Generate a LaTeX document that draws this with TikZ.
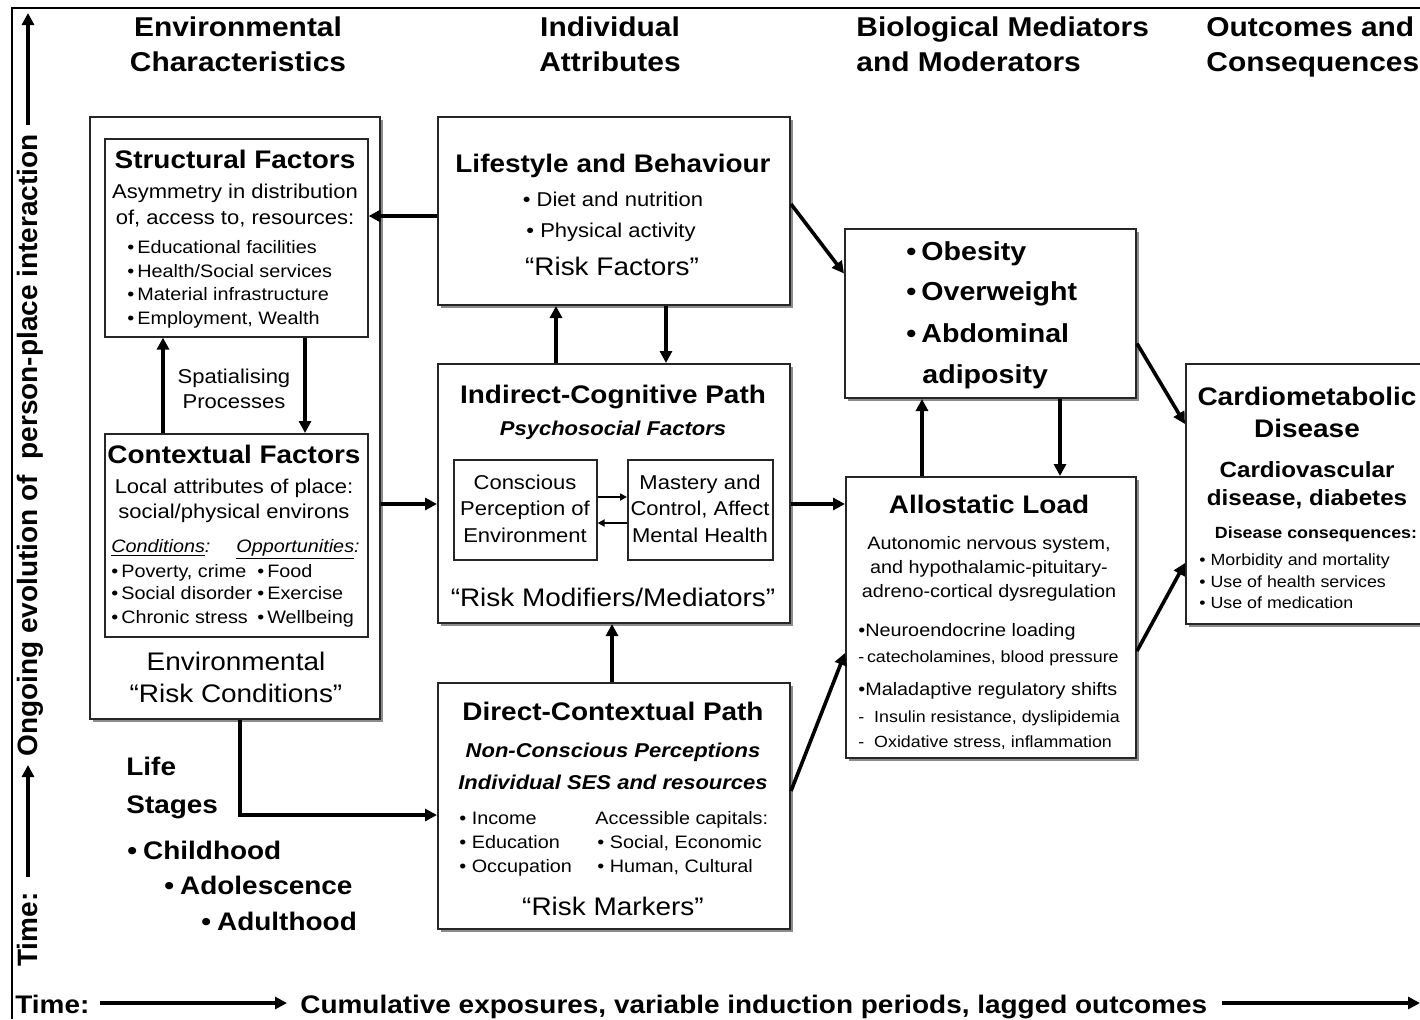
\documentclass[tikz,border=0pt]{standalone}
\usepackage{fontspec}
\setmainfont[FakeStretch=1.1]{Liberation Sans}
\newfontfamily\vertfont{Liberation Sans}
\usetikzlibrary{arrows.meta,shadows}
\newcommand\fHead{\fontsize{13.6}{16}\selectfont\bfseries}
\newcommand\fTitle{\fontsize{12.7}{15}\selectfont\bfseries}
\newcommand\fRisk{\fontsize{12.7}{15}\selectfont}
\newcommand\fBody{\fontsize{10}{12}\selectfont}
\newcommand\fList{\fontsize{9}{11}\selectfont}
\newcommand\fSmall{\fontsize{8.1}{10}\selectfont}
\begin{document}
\begin{tikzpicture}[x=0.5pt,y=-0.5pt,
 box/.style={draw=black!85,line width=1pt,fill=white,anchor=north west,inner sep=0pt,
   drop shadow={shadow xshift=1.5pt,shadow yshift=-1.5pt,fill=black!45,opacity=1}},
 sbox/.style={draw=black!85,line width=0.8pt,fill=white,anchor=north west,inner sep=0pt},
 arr/.style={line width=1.8pt,-{Triangle[length=6pt,width=6pt]}},
 sarr/.style={line width=1pt,-{Triangle[length=3.5pt,width=3.5pt]}},
 txc/.style={anchor=base,inner sep=0pt},
 txl/.style={anchor=base west,inner sep=0pt}]
\useasboundingbox (0,0) rectangle (1420,1019);
\fill[white] (0,0) rectangle (1420,1019);
% frame
\draw[line width=1pt] (12,1019) -- (12,8) -- (1420,8);

% headings
\node[txc] (h1a) at (238,36) {\fHead Environmental};
\node[txc] (h1b) at (238,71) {\fHead Characteristics};
\node[txc] (h2a) at (610,36) {\fHead Individual};
\node[txc] (h2b) at (610,71) {\fHead Attributes};
\node[txl] (h3a) at (856,36) {\fHead Biological Mediators};
\node[txl] (h3b) at (856,71) {\fHead and Moderators};
\node[txl] (h4a) at (1206,36) {\fHead Outcomes and};
\node[txl] (h4b) at (1206,71) {\fHead Consequences};

% boxes
\node[box,minimum width=145pt,minimum height=301pt] (env) at (89,116) {};
\node[sbox,minimum width=131.5pt,minimum height=99pt] (struct) at (104,138) {};
\node[sbox,minimum width=131.5pt,minimum height=101.5pt] (context) at (104,433) {};
\node[box,minimum width=176pt,minimum height=94pt] (life) at (437,116) {};
\node[box,minimum width=176pt,minimum height=129.5pt] (indir) at (437,363) {};
\node[sbox,minimum width=71.5pt,minimum height=50pt] (consc) at (453,459) {};
\node[sbox,minimum width=72.5pt,minimum height=50pt] (mast) at (627,459) {};
\node[box,minimum width=176pt,minimum height=123pt] (direct) at (437,682) {};
\node[box,minimum width=145.5pt,minimum height=84.5pt] (obes) at (844,228) {};
\node[box,minimum width=145pt,minimum height=140.5pt] (allo) at (845,476) {};
\node[box,minimum width=122.5pt,minimum height=130pt] (cardio) at (1185,363) {};

% structural factors
\node[txc] (s1) at (235,168) {\fTitle Structural Factors};
\node[txc] (s2) at (235,198) {\fBody Asymmetry in distribution};
\node[txc] (s3) at (235,224) {\fBody of, access to, resources:};
\node[txl] (s4) at (127,253) {\fList •\,Educational facilities};
\node[txl] (s5) at (127,277) {\fList •\,Health/Social services};
\node[txl] (s6) at (127,300) {\fList •\,Material infrastructure};
\node[txl] (s7) at (127,324) {\fList •\,Employment, Wealth};

\node[txc] (sp1) at (234,383) {\fBody Spatialising};
\node[txc] (sp2) at (234,408) {\fBody Processes};

% contextual factors
\node[txc] (c1) at (234,463) {\fTitle Contextual Factors};
\node[txc] (c2) at (234,493) {\fBody Local attributes of place:};
\node[txc] (c3) at (234,518) {\fBody social/physical environs};
\node[txl] (c4) at (111,552) {\fList\itshape \underline{Conditions}:};
\node[txl] (c5) at (236,552) {\fList\itshape \underline{Opportunities}:};
\node[txl] (c6) at (111,577) {\fList •\,Poverty, crime};
\node[txl] (c7) at (111,599) {\fList •\,Social disorder};
\node[txl] (c8) at (111,623) {\fList •\,Chronic stress};
\node[txl] (c9) at (257,577) {\fList •\,Food};
\node[txl] (c10) at (257,599) {\fList •\,Exercise};
\node[txl] (c11) at (257,623) {\fList •\,Wellbeing};

\node[txc] (e1) at (236,670) {\fRisk Environmental};
\node[txc] (e2) at (236,702) {\fRisk “Risk Conditions”};

% lifestyle
\node[txc] (l1) at (613,172) {\fTitle Lifestyle and Behaviour};
\node[txc] (l2) at (613,206) {\fBody • Diet and nutrition};
\node[txc] (l3) at (611,237) {\fBody • Physical activity};
\node[txc] (l4) at (612,275) {\fRisk “Risk Factors”};

% indirect
\node[txc] (i1) at (613,403) {\fTitle Indirect-Cognitive Path};
\node[txc] (i2) at (613,435) {\fBody\bfseries\itshape Psychosocial Factors};
\node[txc] (i3) at (525,489) {\fBody Conscious};
\node[txc] (i4) at (525,515) {\fBody Perception of};
\node[txc] (i5) at (525,542) {\fBody Environment};
\node[txc] (i6) at (700,489) {\fBody Mastery and};
\node[txc] (i7) at (700,515) {\fBody Control, Affect};
\node[txc] (i8) at (700,542) {\fBody Mental Health};
\node[txc] (i9) at (613,606) {\fRisk “Risk Modifiers/Mediators”};

% direct
\node[txc] (d1) at (613,720) {\fTitle Direct-Contextual Path};
\node[txc] (d2) at (613,757) {\fBody\bfseries\itshape Non-Conscious Perceptions};
\node[txc] (d3) at (613,789) {\fBody\bfseries\itshape Individual SES and resources};
\node[txl] (d4) at (459,824) {\fList • Income};
\node[txl] (d5) at (459,848) {\fList • Education};
\node[txl] (d6) at (459,872) {\fList • Occupation};
\node[txl] (d7) at (595,824) {\fList Accessible capitals:};
\node[txl] (d8) at (597,848) {\fList • Social, Economic};
\node[txl] (d9) at (597,872) {\fList • Human, Cultural};
\node[txc] (d10) at (613,915) {\fRisk “Risk Markers”};

% obesity
\node[txl] (o1) at (906,260) {\fontsize{13}{15}\selectfont\bfseries •\hspace{2.5pt}Obesity};
\node[txl] (o2) at (906,300) {\fontsize{13}{15}\selectfont\bfseries •\hspace{2.5pt}Overweight};
\node[txl] (o3) at (906,342) {\fontsize{13}{15}\selectfont\bfseries •\hspace{2.5pt}Abdominal};
\node[txl] (o4) at (922,383) {\fontsize{13}{15}\selectfont\bfseries adiposity};

% allostatic
\node[txc] (a1) at (989,513) {\fTitle Allostatic Load};
\node[txc] (a2) at (989,549) {\fList Autonomic nervous system,};
\node[txc] (a3) at (989,573) {\fList and hypothalamic-pituitary-};
\node[txc] (a4) at (989,597) {\fList adreno-cortical dysregulation};
\node[txl] (a5) at (858,636) {\fList •Neuroendocrine loading};
\node[txl] (a6) at (858,662) {\fSmall -\,catecholamines, blood pressure};
\node[txl] (a7) at (858,695) {\fList •Maladaptive regulatory shifts};
\node[txl] (a8) at (858,722) {\fSmall -\ \ Insulin resistance, dyslipidemia};
\node[txl] (a9) at (858,747) {\fSmall -\ \ Oxidative stress, inflammation};

% cardio
\node[txc] (k1) at (1307,405) {\fTitle Cardiometabolic};
\node[txc] (k2) at (1307,437) {\fTitle Disease};
\node[txc] (k3) at (1307,477) {\fontsize{11}{13}\selectfont\bfseries Cardiovascular};
\node[txc] (k4) at (1307,505) {\fontsize{11}{13}\selectfont\bfseries disease, diabetes};
\node[txc] (k5) at (1316,538) {\fSmall\bfseries Disease consequences:};
\node[txl] (k6) at (1199,565) {\fSmall • Morbidity and mortality};
\node[txl] (k7) at (1199,587) {\fSmall • Use of health services};
\node[txl] (k8) at (1199,608) {\fSmall • Use of medication};

% life stages
\node[txl] (ls1) at (126,775) {\fTitle Life};
\node[txl] (ls2) at (126,813) {\fTitle Stages};
\node[txl] (ls3) at (127,859) {\fTitle •\hspace{3pt}Childhood};
\node[txl] (ls4) at (164,894) {\fTitle •\hspace{3pt}Adolescence};
\node[txl] (ls5) at (201,930) {\fTitle •\hspace{3pt}Adulthood};

% bottom axis
\node[txl] (bt) at (15,1013) {\fTitle Time:};
\node[txl] (bc) at (300,1013) {\fTitle Cumulative exposures, variable induction periods, lagged outcomes};
\coordinate (b1) at (100,1003);
\coordinate (b2) at (287,1003);
\coordinate (b3) at (1222,1003);
\coordinate (b4) at (1420,1003);
\draw[arr] (b1) -- (b2);
\draw[arr] (b3) -- (b4);

% vertical axis
\node[anchor=base west,rotate=90,inner sep=0pt] (vt) at (38,967) {\vertfont\bfseries\fontsize{14}{16}\selectfont Time:};
\node[anchor=base west,rotate=90,inner sep=0pt] (vo) at (38,757) {\vertfont\bfseries\fontsize{14}{16}\selectfont Ongoing evolution of\ \ person-place interaction};
\coordinate (v1) at (28,877);
\coordinate (v2) at (28,765);
\coordinate (v3) at (28,125);
\coordinate (v4) at (28,13);
\draw[arr] (v1) -- (v2);
\draw[arr] (v3) -- (v4);

% connectors
\coordinate (xup) at (163,0);
\coordinate (xdn) at (305,0);
\draw[arr] (context.north -| xup) -- (struct.south -| xup);
\draw[arr] (struct.south -| xdn) -- (context.north -| xdn);

\coordinate (ylife) at (0,216);
\draw[arr] (life.west |- ylife) -- (struct.east |- ylife);

\coordinate (ymid) at (0,504);
\draw[arr] (env.east |- ymid) -- (indir.west |- ymid);
\draw[arr] (indir.east |- ymid) -- (allo.west |- ymid);

\coordinate (xa) at (556,0);
\coordinate (xb) at (666,0);
\coordinate (xc) at (612,0);
\draw[arr] (indir.north -| xa) -- (life.south -| xa);
\draw[arr] (life.south -| xb) -- (indir.north -| xb);
\draw[arr] (direct.north -| xc) -- (indir.south -| xc);

\coordinate (xo1) at (922,0);
\coordinate (xo2) at (1060,0);
\draw[arr] (allo.north -| xo1) -- (obes.south -| xo1);
\draw[arr] (obes.south -| xo2) -- (allo.north -| xo2);

\coordinate (y1) at (0,497);
\coordinate (y2) at (0,523);
\draw[sarr] (consc.east |- y1) -- (mast.west |- y1);
\draw[sarr] (mast.west |- y2) -- (consc.east |- y2);

\coordinate (elbow) at (240,815);
\draw[arr] (env.south -| elbow) |- (direct.west |- elbow);

\draw[arr] ([yshift=3.5pt]life.east) -- ([yshift=20pt]obes.west);
\draw[arr] ([yshift=-15pt]obes.east) -- ([yshift=35pt]cardio.west);
\draw[arr] ([yshift=7.5pt]direct.east) -- ([yshift=-17.75pt]allo.west);
\draw[arr] ([yshift=-16.75pt]allo.east) -- ([yshift=-34.5pt]cardio.west);
\end{tikzpicture}
\end{document}
